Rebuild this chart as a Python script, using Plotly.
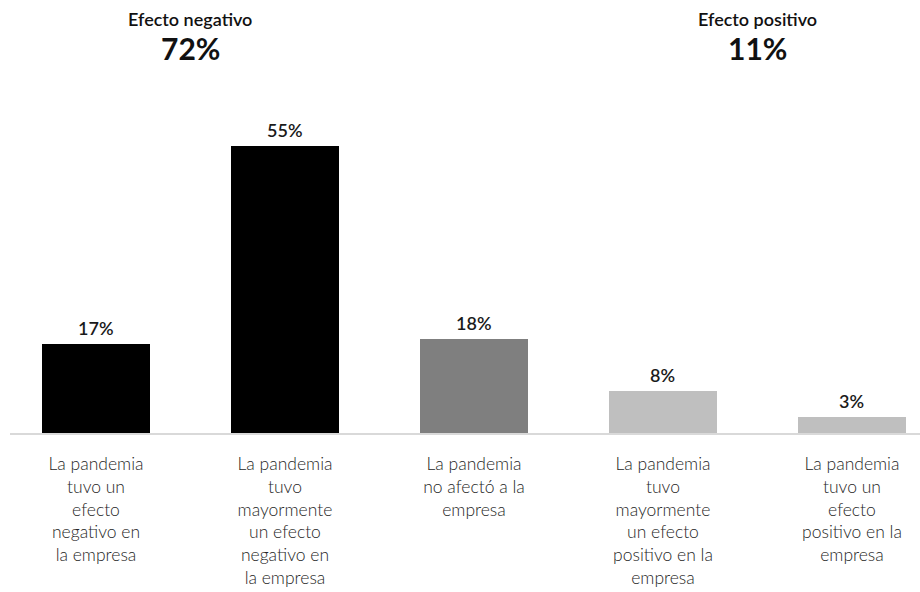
import plotly.graph_objects as go

categories = [
    "La pandemia<br>tuvo un<br>efecto<br>negativo en<br>la empresa",
    "La pandemia<br>tuvo<br>mayormente<br>un efecto<br>negativo en<br>la empresa",
    "La pandemia<br>no afectó a la<br>empresa",
    "La pandemia<br>tuvo<br>mayormente<br>un efecto<br>positivo en la<br>empresa",
    "La pandemia<br>tuvo un<br>efecto<br>positivo en la<br>empresa",
]
values = [17, 55, 18, 8, 3]
value_labels = ["17%", "55%", "18%", "8%", "3%"]
colors = ["#000000", "#000000", "#7f7f7f", "#bfbfbf", "#bfbfbf"]
group_titles = ["Efecto negativo", "Efecto positivo"]
group_totals = ["72%", "11%"]
group_positions = [0.5, 3.5]

FONT = "Source Sans Pro, Lato, Noto Sans, sans-serif"
xs = list(range(len(values)))

fig = go.Figure()
fig.add_trace(go.Bar(
    x=xs, y=values, marker=dict(color=colors, line=dict(width=0)),
    width=0.571, hoverinfo="skip",
))

for x, v, t in zip(xs, values, value_labels):
    fig.add_annotation(x=x, y=v, text=t, showarrow=False, yanchor="bottom",
                       yshift=3, font=dict(family=FONT, size=18, color="#1a1a1a", weight=600))

for x, t, p in zip(group_positions, group_titles, group_totals):
    fig.add_annotation(x=x, xref="x", y=1.1728, yref="paper", text=t, showarrow=False,
                       yanchor="middle", font=dict(family=FONT, size=18, color="#111111", weight=600))
    fig.add_annotation(x=x, xref="x", y=1.0907, yref="paper", text="<b>" + p + "</b>",
                       showarrow=False, yanchor="middle",
                       font=dict(family=FONT, size=30, color="#111111"))

fig.update_layout(
    width=920, height=592,
    margin=dict(l=10, r=0, t=80, b=159),
    paper_bgcolor="white", plot_bgcolor="white",
    showlegend=False,
    bargap=0,
    font=dict(family=FONT),
)
fig.update_xaxes(
    range=[-0.455, 4.36], tickmode="array", tickvals=xs, ticktext=categories,
    showline=True, linecolor="#d9d9d9", linewidth=2, showgrid=False, zeroline=False,
    ticks="", ticklabelstandoff=14,
    tickfont=dict(family=FONT, size=17.5, color="#262626", weight=300), fixedrange=True,
)
fig.update_yaxes(range=[0, 67.65], visible=False, showgrid=False, zeroline=False,
                 fixedrange=True)

fig.write_html("out.html")
